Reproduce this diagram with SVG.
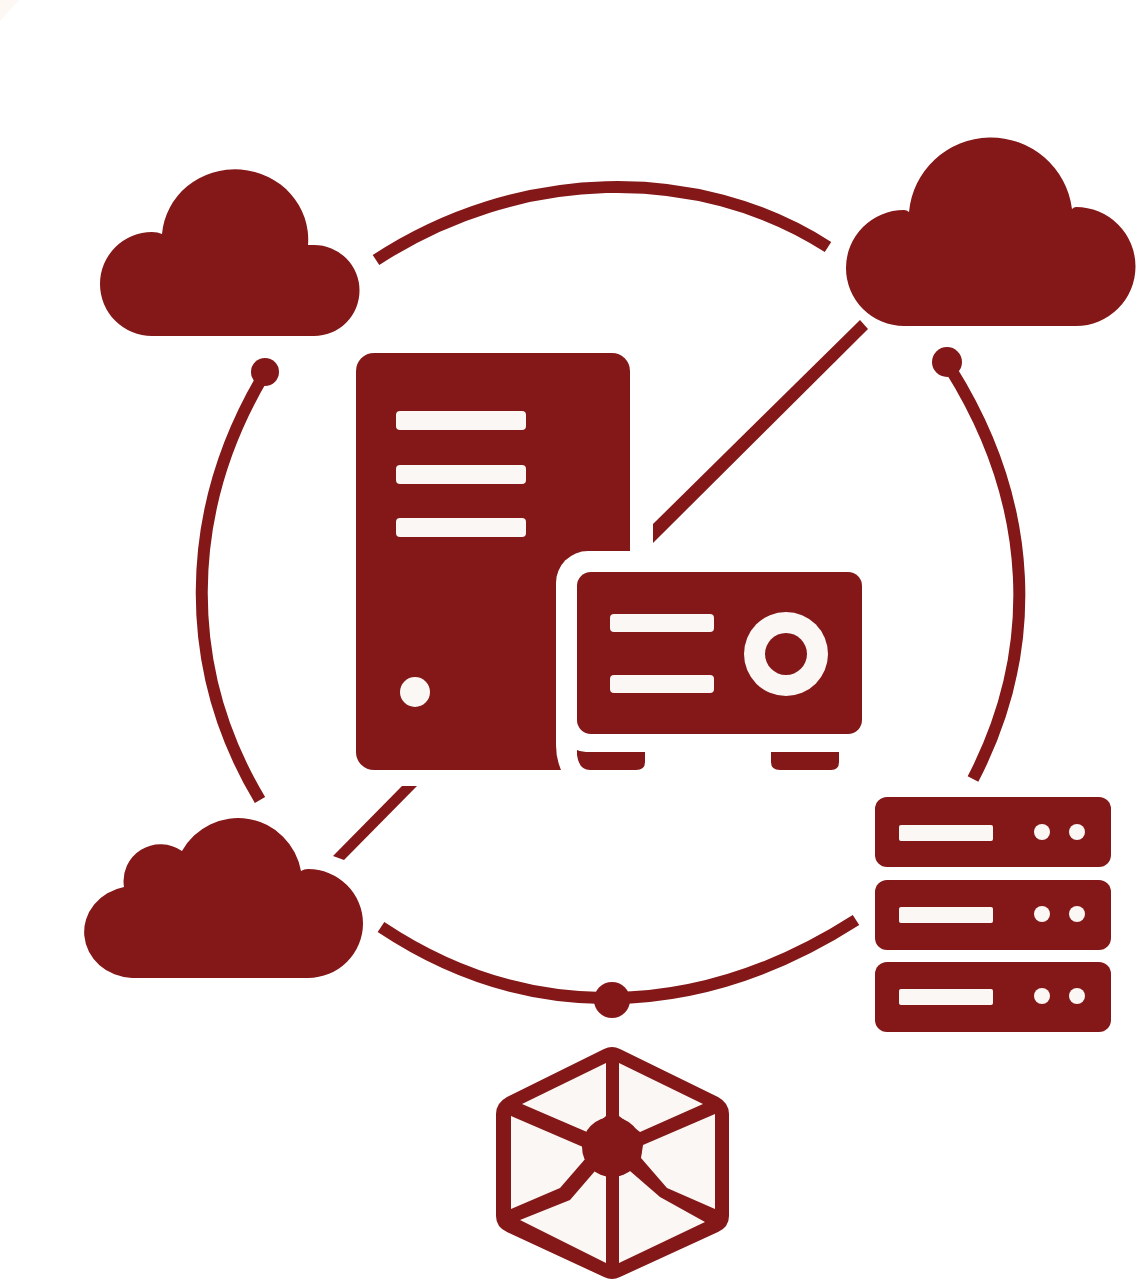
<svg xmlns="http://www.w3.org/2000/svg" width="1137" height="1280" viewBox="0 0 1137 1280">
<style>
.d{fill:#841818}
.l{fill:#faf7f4}
.w{fill:#fff}
.a{fill:none;stroke:#841818;stroke-width:12}
</style>
<rect width="1137" height="1280" class="w"/>
<polygon points="0,0 19,0 0,21" fill="#fdf8f4"/>
<g id="connectors">
<path class="a" d="M376 260C518 167 697 163 828 247"/>
<path class="a" d="M262 378C182 515 182 670 260 800"/>
<path class="a" d="M950 368C1036 505 1040 650 973 779"/>
<path class="a" d="M381 927C525 1023 695 1023 856 920"/>
<polygon class="d" points="860,320 868,329 653,543 653,524"/>
<polygon class="d" points="402,786 417,786 344,860 333,856"/>
<circle class="d" cx="265" cy="372" r="14"/>
<circle class="d" cx="947" cy="362" r="15"/>
<circle class="d" cx="612" cy="1000" r="18"/>
</g>
<g id="cloud-top-left">
<path class="d" d="M152 336A52 52 0 0 1 152 232Q158 232 162 234A73 70 0 0 1 308 245Q311 245 314 245A45.5 45.5 0 0 1 314 336Z"/>
</g>
<g id="cloud-top-right">
<path class="d" d="M904 326A58 58 0 0 1 904 210Q907 210 909 212A82 82 0 0 1 1072 209Q1074 207 1076 207A59.5 59.5 0 0 1 1076 326Z"/>
</g>
<g id="cloud-bottom-left">
<path class="d" d="M132 978A50 46 0 0 1 124 887A37 37 0 0 1 182 851A64 64 0 0 1 301 871Q304 869 308 869A55 54.5 0 0 1 308 978Z"/>
</g>
<g id="tower">
<rect class="d" x="356" y="353" width="274" height="417" rx="18"/>
<path class="w" d="M640 551H588A32 32 0 0 0 556 583V745Q556 762 564 776H640Z"/>
<rect class="l" x="396" y="411" width="130" height="19" rx="4"/>
<rect class="l" x="396" y="465" width="130" height="19" rx="4"/>
<rect class="l" x="396" y="518" width="130" height="19" rx="4"/>
<circle class="l" cx="415" cy="692" r="15"/>
</g>
<g id="projector">
<rect class="d" x="577" y="572" width="285" height="162" rx="14"/>
<rect class="l" x="610" y="614" width="104" height="18" rx="4"/>
<rect class="l" x="610" y="675" width="104" height="18" rx="4"/>
<circle class="l" cx="786" cy="654" r="42"/>
<circle class="d" cx="786" cy="654" r="21"/>
<path class="d" d="M577 750Q582 752 590 752H645V762Q645 770 636 770H590Q579 770 577 755Z"/>
<path class="d" d="M771 752H839V762Q839 770 831 770H780Q771 770 771 762Z"/>
</g>
<g id="server-stack">
<rect class="d" x="875" y="797" width="236" height="70" rx="12"/>
<rect class="d" x="875" y="880" width="236" height="70" rx="12"/>
<rect class="d" x="875" y="962" width="236" height="70" rx="12"/>
<rect class="l" x="899" y="825" width="94" height="16" rx="2"/>
<rect class="l" x="899" y="907" width="94" height="16" rx="2"/>
<rect class="l" x="899" y="989" width="94" height="16" rx="2"/>
<circle class="l" cx="1042" cy="832" r="8"/><circle class="l" cx="1077" cy="832" r="8"/>
<circle class="l" cx="1042" cy="914" r="8"/><circle class="l" cx="1077" cy="914" r="8"/>
<circle class="l" cx="1042" cy="996" r="8"/><circle class="l" cx="1077" cy="996" r="8"/>
</g>
<g id="hexagon">
<path class="d" d="M604 1049Q612 1045 620 1049L718 1097Q729 1103 729 1114V1216Q729 1227 718 1232L620 1277Q612 1281 604 1277L507 1232Q496 1227 496 1216V1114Q496 1103 507 1097Z"/>
<polygon class="l" points="606,1063 522,1104 587,1132 606,1116"/>
<polygon class="l" points="619,1063 703,1104 640,1132 619,1116"/>
<polygon class="l" points="511,1116 583,1147 586,1158 560,1188 511,1209"/>
<polygon class="l" points="715,1114 643,1145 641,1158 667,1188 715,1209"/>
<polygon class="l" points="520,1220 570,1200 595,1171 606,1176 606,1263"/>
<polygon class="l" points="619,1176 630,1171 660,1197 705,1222 619,1263"/>
<circle class="d" cx="612" cy="1147" r="30"/>
</g>
</svg>
